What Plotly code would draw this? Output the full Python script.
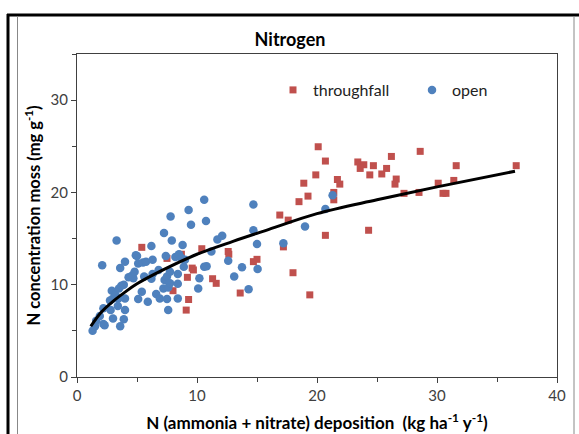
import plotly.graph_objects as go

# ---- data ----
open_x = [1.3, 1.5, 1.6, 1.9, 2.2, 2.3, 2.2, 2.1, 2.75, 2.8, 2.9, 3.0, 3.0, 3.2, 3.3, 3.4, 3.45, 3.5,
          3.6, 3.6, 3.7, 3.9, 3.9, 4.0, 4.0, 4.0, 4.3, 4.6, 4.7, 4.8, 4.9, 5.0, 5.1, 5.1, 5.4, 5.5,
          5.6, 5.75, 5.9, 6.2, 6.2, 6.3, 6.3, 6.6, 6.8, 6.9, 7.2, 7.25, 7.3, 7.4, 7.5, 7.5, 7.6, 7.6,
          7.75, 7.75, 7.8, 7.9, 8.2, 8.4, 8.4, 8.4, 8.5, 8.7, 8.8, 8.9, 9.0, 9.3, 9.5, 10.1, 10.2,
          10.6, 10.6, 10.75, 10.8, 11.2, 11.7, 12.1, 12.6, 13.1, 13.75, 14.3, 14.7, 14.7, 15.0, 15.05,
          17.2, 19.0, 20.7, 21.3]
open_y = [5.0, 5.5, 6.1, 6.6, 5.75, 5.6, 7.45, 12.1, 8.3, 7.25, 9.35, 6.35, 8.5, 8.9, 14.8, 7.7, 8.5, 9.6,
          5.5, 11.8, 9.9, 6.25, 10.0, 8.5, 12.5, 7.25, 10.8, 11.0, 10.7, 11.4, 13.2, 13.1, 12.3, 8.45, 9.25, 12.4,
          10.9, 12.5, 8.15, 14.2, 10.65, 12.7, 11.15, 9.0, 11.6, 8.5, 9.6, 15.6, 10.5, 13.1, 10.9, 8.45, 9.7, 7.25,
          11.4, 10.15, 17.4, 14.8, 13.0, 11.15, 10.1, 8.5, 13.3, 12.9, 14.3, 11.95, 12.7, 18.1, 16.5, 9.6, 10.7,
          19.2, 11.95, 16.9, 12.0, 13.6, 14.9, 15.3, 12.6, 10.9, 11.9, 9.5, 18.7, 15.9, 14.4, 11.7,
          14.5, 16.3, 18.2, 19.7]

tf_x = [5.4, 7.5, 8.0, 8.7, 9.1, 9.2, 9.3, 9.6, 9.7, 10.4, 11.3, 11.6, 12.6, 12.65, 13.6, 14.7, 15.0,
        16.9, 17.2, 17.6, 18.0, 18.5, 18.9, 19.25, 19.4, 19.9, 20.1, 20.7, 20.7, 21.4, 21.4, 21.7, 21.9,
        23.4, 23.9, 23.6, 24.7, 24.4, 24.3, 25.4, 25.8, 26.2, 26.6, 26.5, 27.25, 28.6, 28.5, 30.1, 30.5,
        30.75, 31.4, 31.6, 36.6]
tf_y = [14.05, 12.85, 9.35, 13.3, 7.25, 10.8, 8.4, 11.8, 11.6, 13.9, 10.65, 10.15, 13.6, 13.3, 9.1, 12.5, 12.75,
        17.55, 14.1, 17.0, 11.3, 19.0, 21.0, 19.6, 8.9, 21.9, 24.95, 23.4, 15.35, 20.0, 19.2, 21.4, 20.9,
        23.3, 23.0, 22.6, 22.9, 21.9, 15.9, 22.0, 22.6, 23.9, 21.45, 20.9, 19.9, 24.45, 20.0, 21.0, 19.9,
        19.9, 21.3, 22.9, 22.9]

trend_x = [1.15, 2, 3, 4, 5, 7, 10, 13, 16, 20, 25, 30, 36.5]
trend_y = [5.5, 7.0, 8.2, 9.2, 10.1, 11.5, 13.3, 14.7, 16.0, 17.7, 19.2, 20.6, 22.3]

x_ticks = [0, 10, 20, 30, 40]
y_ticks = [0, 10, 20, 30]

FONT = "Lato"
W, H = 579, 434
ML, MR, MT, MB = 77, 22, 54, 57
PW, PH = W - ML - MR, H - MT - MB


def px(x):
    return (x - ML) / PW


def py(y):
    return (H - MB - y) / PH


fig = go.Figure()
fig.add_trace(go.Scatter(x=tf_x, y=tf_y, mode="markers", name="throughfall",
                         marker=dict(symbol="square", size=7, color="#C0504D")))
fig.add_trace(go.Scatter(x=open_x, y=open_y, mode="markers", name="open",
                         marker=dict(symbol="circle", size=8.5, color="#4F81BD")))
fig.add_trace(go.Scatter(x=trend_x, y=trend_y, mode="lines", showlegend=False,
                         line=dict(color="black", width=3, shape="spline")))

axis_common = dict(showline=True, linecolor="#404040", linewidth=1, mirror=True, automargin=False,
                   ticks="outside", ticklen=5, tickcolor="#404040", showgrid=False, zeroline=False,
                   tickfont=dict(family=FONT, size=15, color="#404040"),
                   minor=dict(ticks="outside", ticklen=4, dtick=5, tickcolor="#404040"))

fig.update_xaxes(range=[0, 40], tickvals=x_ticks, **axis_common,
                 title=dict(text="<b>N (ammonia + nitrate) deposition  (kg ha<sup>-1</sup> y<sup>-1</sup>)</b>",
                            font=dict(family=FONT, size=17, color="black"), standoff=14))
fig.update_yaxes(range=[0, 35], tickvals=y_ticks, **axis_common,
                 title=dict(text="<b>N concentration moss (mg g<sup>-1</sup>)</b>",
                            font=dict(family=FONT, size=16.5, color="black"), standoff=5))

shapes = [
    dict(type="line", xref="paper", yref="paper", x0=px(7), x1=px(579), y0=py(15), y1=py(15),
         line=dict(color="black", width=3)),
    dict(type="line", xref="paper", yref="paper", x0=px(8), x1=px(8), y0=py(14), y1=py(434),
         line=dict(color="black", width=3)),
    dict(type="line", xref="paper", yref="paper", x0=px(17.5), x1=px(17.5), y0=py(16), y1=py(434),
         line=dict(color="#888888", width=1)),
    dict(type="line", xref="paper", yref="paper", x0=px(574), x1=px(574), y0=py(16), y1=py(434),
         line=dict(color="#888888", width=1)),
]

fig.update_layout(
    width=W, height=H,
    margin=dict(l=ML, r=MR, t=MT, b=MB, autoexpand=False),
    paper_bgcolor="white", plot_bgcolor="white",
    title=dict(text="<b>Nitrogen</b>", x=290 / W, xref="container", xanchor="center",
               y=1 - 40 / H, yanchor="middle", yref="container",
               font=dict(family=FONT, size=18, color="black")),
    showlegend=True,
    legend=dict(orientation="h", x=px(273), y=py(90), xanchor="left", yanchor="middle",
                bgcolor="rgba(0,0,0,0)", font=dict(family=FONT, size=16, color="#222222"),
                itemwidth=30, entrywidth=94),
    shapes=shapes,
)

fig.write_html("out.html", config={"displayModeBar": False},
               post_script="document.body.style.margin='0';document.body.style.overflow='hidden';")
